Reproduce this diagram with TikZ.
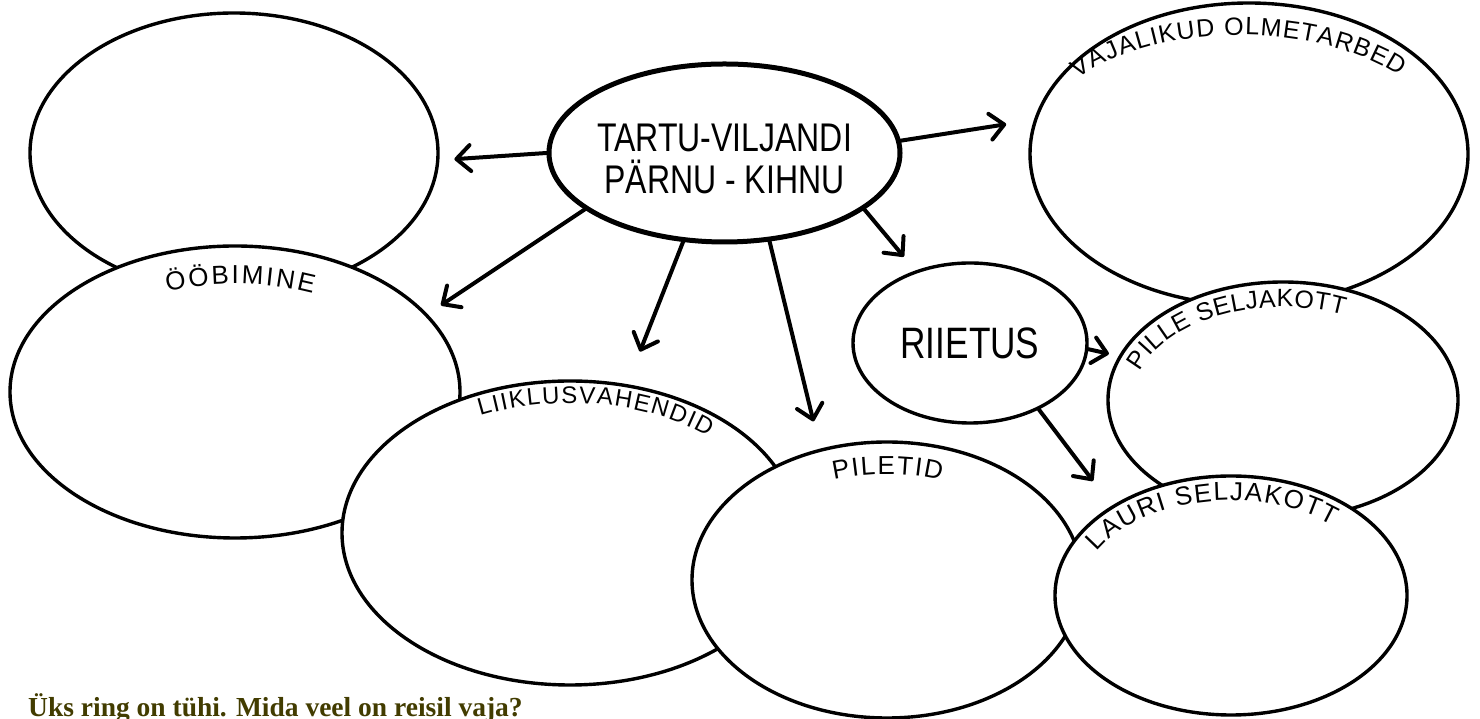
\documentclass[tikz,border=0pt]{standalone}
\usepackage{fontspec}
\setmainfont{Liberation Serif}
\newfontfamily\handfont[FakeStretch=0.8]{Liberation Sans}
\newfontfamily\labfont{Liberation Sans}
\usetikzlibrary{shapes.geometric,arrows.meta,decorations.text,calc}
\definecolor{qcolor}{RGB}{66,60,0}
\begin{document}
\begin{tikzpicture}[x=1pt,y=1pt,
  bubble/.style={ellipse, draw, line width=3.4pt, fill=white, inner sep=0pt},
  arr/.style={line width=4pt, line cap=round, -{Straight Barb[length=14pt,width=26pt,round]}},
  hand/.style={font=\handfont\fontsize{40}{42}\selectfont, align=center, inner sep=0pt},
  curved/.style 2 args={decorate, decoration={text along path, text align={fit to path},
      text={|\labfont\fontsize{#1}{#1}\selectfont|#2}}}]
\fill[white] (0,0) rectangle (1480,719);
\useasboundingbox (0,0) rectangle (1480,719);

% bubbles, back to front
\node[bubble, minimum width=408pt, minimum height=280pt] (tl) at (234,566) {};
\node[bubble, minimum width=450pt, minimum height=292pt] (oob) at (235,327) {};
\node[bubble, minimum width=456pt, minimum height=304pt] (liik) at (570,186) {};
\node[bubble, minimum width=390pt, minimum height=276pt] (pil) at (887,139) {};
\node[bubble, minimum width=438pt, minimum height=302pt] (vaj) at (1249,565) {};
\node[bubble, minimum width=350pt, minimum height=236pt] (pille) at (1283,319) {};
\node[bubble, minimum width=352pt, minimum height=239pt] (lauri) at (1231,123.5) {};
\node[bubble, minimum width=234pt, minimum height=160pt,
      font=\handfont\fontsize{44}{44}\selectfont] (riiet) at (970,376) {RIIETUS};
\node[bubble, line width=5pt, minimum width=351pt, minimum height=178pt] (tartu) at (724.5,566) {};
\node[hand] (tartutxt) at (724.5,560) {TARTU-VILJANDI\\PÄRNU - KIHNU};

% curved labels
\path[curved={26}{ÖÖBIMINE}] ($(oob)+(111.3:187pt and 108pt)$)
  arc[start angle=111.3, end angle=65.4, x radius=187pt, y radius=108pt];
\path[curved={24}{LIIKLUSVAHENDID}] ($(liik)+(115.9:206pt and 130pt)$)
  arc[start angle=115.9, end angle=47.9, x radius=206pt, y radius=130pt];
\path[curved={26}{PILETID}] ($(pil)+(109:163pt and 106pt)$)
  arc[start angle=109, end angle=70.5, x radius=163pt, y radius=106pt];
\path[curved={25}{VAJALIKUD OLMETARBED}] ($(vaj)+(-9pt,-1pt)+(140.2:212pt and 120pt)$)
  arc[start angle=140.2, end angle=41, x radius=212pt, y radius=120pt];
\path[curved={25}{PILLE SELJAKOTT}] ($(pille)+(162:150pt and 93pt)$)
  arc[start angle=162, end angle=66, x radius=150pt, y radius=93pt];
\path[curved={26}{LAURI SELJAKOTT}] ($(lauri)+(152.5:151pt and 95pt)$)
  arc[start angle=152.5, end angle=47.5, x radius=151pt, y radius=95pt];

% arrows
\draw[arr, shorten >=15pt] (tartu.180) -- (tl.-2);
\draw[arr, shorten >=28pt] (tartu.4) -- (vaj.171);
\draw[arr, shorten >=16pt] (tartu.202) -- (oob.22);
\draw[arr, shorten >=35pt] (tartu.245) -- (liik.69);
\draw[arr, shorten >=28pt] (tartu.297) -- (pil.117);
\draw[arr, shorten >=18pt] (tartu.338) -- (riiet.127);
\draw[arr, shorten >=10pt] (riiet.-3) -- (pille.165);
\draw[arr, shorten >=31pt] (riiet.-44) -- (lauri.143);

% question
\node[anchor=base west, inner sep=0pt, text=qcolor,
      font=\bfseries\fontsize{27.5}{30}\selectfont] (q) at (28,2)
  {Üks ring on tühi. Mida veel on reisil vaja?};
\end{tikzpicture}
\end{document}
